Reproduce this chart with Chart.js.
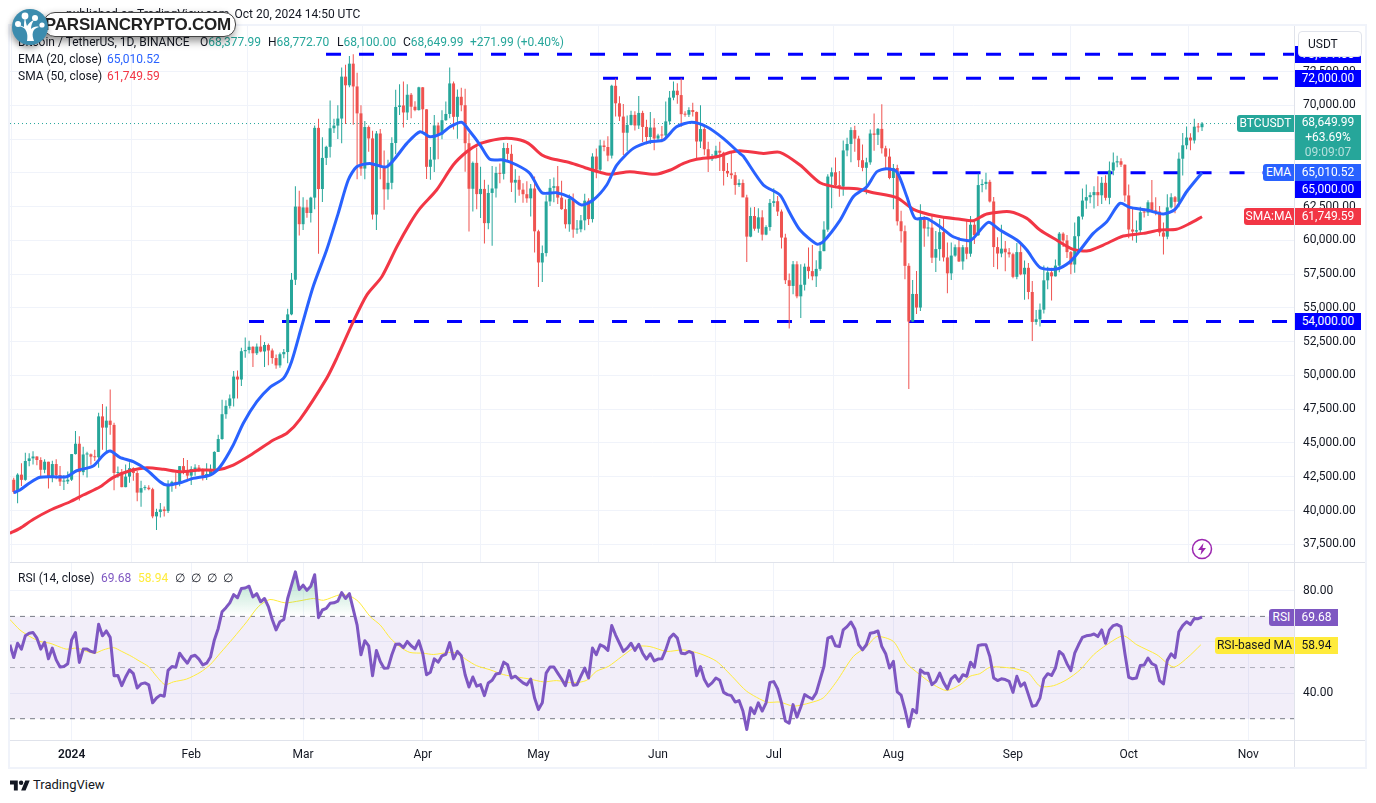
<!DOCTYPE html>
<html>
<head>
<meta charset="utf-8">
<script src="https://cdn.jsdelivr.net/npm/chart.js@4"></script>
<style>
  html, body { margin: 0; background: #fff; overflow: hidden; }
  body { width: 1376px; height: 803px; position: relative; font-family: Roboto, sans-serif; font-size: 12px; color: #131722; }
  canvas { position: absolute; left: 0; }
  .abs { position: absolute; white-space: nowrap; }
  .badge { position: absolute; height: 17px; line-height: 17px; text-align: center; white-space: nowrap; color: #fff; }
  .line { position: absolute; background: #E0E3EB; }
  #logoText { position: absolute; left: 43px; top: 12px; width: 193px; height: 25px; box-sizing: border-box; background: #fff; border: 1px solid #444; border-radius: 12px;
    box-shadow: -2px 4px 8px rgba(0,0,0,.45); font: 700 17px/24px "Liberation Sans", sans-serif; letter-spacing: -0.2px; color: #222; text-align: right; padding-right: 4px; }
</style>
</head>
<body>
<canvas id="priceChart" width="1376" height="563" style="top:0"></canvas>
<canvas id="rsiChart" width="1376" height="205" style="top:563px"></canvas>
<div id="overlay"></div>
<script>
const firstCandleDay = -15; // Dec 17 2023, day 0 = Jan 1 2024

const monthDays = [0, 31, 60, 91, 121, 152, 182, 213, 244, 274, 305];
const monthLabels = ["2024", "Feb", "Mar", "Apr", "May", "Jun", "Jul", "Aug", "Sep", "Oct", "Nov"];
const priceTicks = [37500, 40000, 42500, 45000, 47500, 50000, 52500, 55000, 57500, 60000, 62500, 65000, 67500, 70000, 72500];
const rsiTicks = [40, 60, 80];
const rsiLabelled = [40, 80];

const opens = [
  42278,41374,42657,42271,43668,43861,44000,43739,43016,43613,42520,43442,42627,42142,42152,
  42283,44179,44946,42845,44151,44162,43989,43943,46970,46139,46654,46340,42782,42847,41732,42511,43137,42776,41327,41659,41696,41580,39568,39897,40084,39961,41823,42120,42035,43288,42952,
  42582,43075,43185,42990,42580,42708,43082,44339,45293,47132,47751,48299,49917,49699,51795,51880,52124,51642,52137,51775,52258,51849,51288,50745,51572,51733,54522,57085,62504,
  61198,62440,62029,63167,68330,63801,66106,66925,68300,68498,69019,72123,71481,73083,71396,69403,65315,68390,67548,61912,67913,65491,63778,64262,67210,69880,69988,69469,70780,69897,69645,
  71333,69702,65446,65980,68508,67837,68896,69360,71620,69146,70631,70007,67195,63821,65738,63426,63811,61276,63512,63843,64994,64927,66837,66408,64276,64481,63755,63419,63113,63842,
  60672,58364,59060,62882,63892,64012,63165,62312,61193,63074,60799,60825,61483,62940,61577,66206,65235,67024,66915,66274,71446,70148,69166,67969,68549,69290,68507,69436,68398,67652,68352,
  67540,67766,67765,68809,70567,71082,70757,69342,69305,69649,69508,67321,68243,66747,66007,66191,66639,66490,65140,64960,64828,64096,64252,63180,60277,61806,60864,61706,60427,60986,
  62772,62899,62135,60208,57050,56628,58230,55857,56714,58050,57725,57339,57889,59204,60797,64724,65043,64087,63987,66660,67139,68165,67532,65936,65372,65777,67912,67813,68255,66819,66201,
  64619,65357,61415,60680,58116,53991,56034,55027,61710,60880,60945,58719,59354,60609,58737,57560,58874,59493,58439,59493,59012,61159,60381,64094,64178,64333,62880,59504,59027,59388,59119,
  58974,57301,59132,57487,57970,56180,53962,54160,54869,57042,57635,57339,58132,60498,59993,59132,58213,60309,61759,62947,63201,63348,63578,63339,64262,63152,65173,65769,65858,65602,
  63327,60805,60649,60752,62086,62058,62819,62224,62131,60582,60274,62445,63193,62851,66046,67041,67612,67399,68418,68378
];
const highs = [
  42424,42757,43500,44283,44242,44398,44015,43950,43800,43613,43683,43804,43300,42612,42899,
  44184,45879,45500,44729,44357,44214,44495,47248,47893,47699,48969,46498,43257,43079,43400,43578,43198,42930,42196,41872,41881,41689,40129,40555,40300,42246,42200,42842,43305,43882,43745,
  43285,43422,43380,43119,43494,43399,44380,45614,48200,48170,48592,50334,50368,52043,52816,52572,52163,52364,52985,52473,52366,52000,51548,51700,51950,54938,57588,64000,63676,
  63200,63000,63230,68500,69000,67637,67000,70357,69000,70000,72800,73000,73650,73777,72419,70000,68845,68500,68124,68100,68240,66650,65975,67628,71150,71561,71769,71552,70916,70300,71377,
  71355,69708,66914,69291,68725,69629,70284,72797,71758,71172,71305,71227,67932,65840,66878,65450,64486,64125,65500,65442,65700,67233,67208,67075,65275,64792,64222,64370,64174,64734,
  60780,59625,63333,64540,64646,65500,64422,63021,63404,63469,61515,61888,63450,63118,66444,66800,67451,67400,67700,71515,71979,70666,70096,69250,69591,69562,70687,69591,68935,69500,69044,
  67900,68460,70288,71063,71758,71625,71997,69563,69860,70195,69550,70000,68449,67294,66402,66998,67298,66556,65727,66482,65066,64525,64515,63369,62435,62480,62370,62230,61128,63058,
  63861,63288,62285,60498,57546,58475,58449,58236,58296,59470,59650,58526,59850,61420,64900,65388,66128,65133,67386,67598,68366,68479,67750,67102,66112,68200,69399,68318,70079,66998,66800,
  65659,65596,62198,61100,58305,57059,57736,62673,61800,61488,61900,60700,61578,61800,59849,59850,59700,60236,59650,61432,61800,61400,64955,64521,65000,64481,63219,60236,61166,59950,59432,
  59076,59809,59809,58519,58327,57000,54850,55318,58133,58044,57981,58588,60625,60610,60395,59210,61320,61786,63850,64133,63559,64000,64745,64688,64817,65839,66498,66260,66076,65618,
  64130,62390,61477,62484,62370,62975,64478,63200,62543,61320,63417,63480,63285,66500,67950,68424,67938,69000,68693,68773
];
const lows = [
  41250,40542,41811,42206,43286,43412,43351,42500,42765,41637,42096,42318,41818,41520,41965,
  42180,44148,40750,42613,42450,43397,43662,43175,44500,44300,45606,41500,42436,41720,41718,42050,42200,40683,40280,41500,41500,39431,38555,39484,39550,39823,41394,41620,41804,42683,42276,
  41884,42584,42880,42222,42258,42574,42788,44330,45242,46800,47557,47710,48300,49225,51315,51625,50625,51518,51715,50625,50750,50875,50500,50575,51280,50901,54450,56690,60364,
  60777,61668,61321,62300,59005,62848,65577,66128,67944,67500,67194,68620,71333,68555,64533,64780,64527,66555,61555,60775,64529,62260,63000,63790,66385,69280,68359,68903,69043,69560,69624,
  68062,64550,64493,65064,66011,67491,68851,69043,68210,67518,69567,65086,60660,62134,62302,61650,59768,60833,59600,63172,64227,64500,65864,63589,62783,63297,62793,62781,61765,59102,
  56552,56911,58811,62541,62822,62700,62261,60888,60648,60187,60487,60610,60749,61142,61319,64600,65106,66600,65857,66060,69162,68832,66312,66600,68500,68128,68250,67277,67124,67128,66670,
  67428,67257,67612,68567,70383,70119,68420,69160,69125,69172,66051,66838,66304,65056,65871,66060,65130,64066,64693,64559,63379,63943,63209,58402,60239,60712,60570,59985,60383,60712,
  62497,61806,59400,56771,53485,56018,55724,54260,56289,57157,57050,56542,57756,59194,60632,62373,63854,63238,63300,66222,65777,66559,65441,65111,63408,65600,66640,67066,66428,65301,64526,
  62302,61100,59850,57122,49000,53962,54558,54766,59535,60288,58325,57650,58500,58433,56078,57065,58785,58408,57833,58610,58783,59724,60345,63570,63773,62800,58034,57860,58755,57712,58735,
  57201,57120,57415,55606,55643,52550,53745,53629,54590,56386,55545,57324,57632,59510,58691,57493,57610,59174,61555,62350,62758,62357,62538,62700,62947,62670,64819,65422,65432,62856,
  60164,60000,59828,60459,61689,61798,62128,61860,60300,58946,60080,62365,62000,62457,64800,66750,66666,67178,68010,68100
];
const closes = [
  41374,42657,42271,43668,43861,44000,43739,43016,43613,42520,43442,42627,42142,42152,42283,
  44179,44946,42845,44151,44162,43989,43943,46970,46139,46654,46340,42782,42847,41732,42511,43137,42776,41327,41659,41696,41580,39568,39897,40084,39961,41823,42120,42035,43288,42952,42582,
  43075,43185,42990,42580,42708,43082,44339,45293,47132,47751,48299,49917,49699,51795,51880,52124,51642,52137,51775,52258,51849,51288,50745,51572,51733,54522,57085,62504,61198,
  62440,62029,63167,68330,63801,66106,66925,68300,68498,69019,72123,71481,73083,71396,69403,65315,68390,67548,61912,67913,65491,63778,64262,67210,69880,69988,69469,70780,69897,69645,71333,
  69702,65446,65980,68508,67837,68896,69360,71620,69146,70631,70007,67195,63821,65738,63426,63811,61276,63512,63843,64994,64927,66837,66408,64276,64481,63755,63419,63113,63842,60672,
  58364,59060,62882,63892,64012,63165,62312,61193,63074,60799,60825,61483,62940,61577,66206,65235,67024,66915,66274,71446,70148,69166,67969,68549,69290,68507,69436,68398,67652,68352,67540,
  67766,67765,68809,70567,71082,70757,69342,69305,69649,69508,67321,68243,66747,66007,66191,66639,66490,65140,64960,64828,64096,64252,63180,60277,61806,60864,61706,60427,60986,62772,
  62899,62135,60208,57050,56628,58230,55857,56714,58050,57725,57339,57889,59204,60797,64724,65043,64087,63987,66660,67139,68165,67532,65936,65372,65777,67912,67813,68255,66819,66201,64619,
  65357,61415,60680,58116,53991,56034,55027,61710,60880,60945,58719,59354,60609,58737,57560,58874,59493,58439,59493,59012,61159,60381,64094,64178,64333,62880,59504,59027,59388,59119,58974,
  57301,59132,57487,57970,56180,53962,54160,54869,57042,57635,57339,58132,60498,59993,59132,58213,60309,61759,62947,63201,63348,63578,63339,64262,63152,65173,65769,65858,65602,63327,
  60805,60649,60752,62086,62058,62819,62224,62131,60582,60274,62445,63193,62851,66046,67041,67612,67399,68418,68362,68650
];

const emaDays = [-15,-13.4,-10.8,-8.2,-4.8,-1.3,1.3,5.6,8.2,10,12.5,16,19.5,22.9,24.7,28.1,31.5,35.9,38.5,41.9,44.5,48,51.4,54.9,57,59.6,62.6,66.1,69.1,71.7,73.9,77.3,81.7,86.9,90.3,92.9,95.9,98.1,101.1,103.3,105.9,108.4,111.9,115.4,118.8,121.9,125.7,129.2,132.2,135.2,138.7,141.3,145.6,149.9,153.4,156.8,160.7,164.6,168.9,173.2,174.1,179.3,183.6,186.2,188.8,193.1,194.8,199.2,202.6,206.1,208.7,211.3,213.9,216.5,218.6,221.6,225.1,228.5,232.4,233.7,237.6,240.6,245,247.6,251,255.3,258.8,261.4,264.8,268.3,271.7,274.3,278.7,283,286,289,293];
const emaValues = [41317,41520,42060,42460,42500,42500,42945,43295,44110,44405,43940,43615,43000,42130,41885,42060,42380,42630,43240,44850,46460,48055,49120,49785,51020,53605,56570,59285,62000,64465,65450,65700,65450,67180,68040,67670,67920,68410,68740,68040,67060,66000,65950,65580,64960,63530,63530,63185,62620,62990,64100,65580,66810,67305,67430,68410,68740,68410,67550,66440,66230,64100,63360,62000,60765,59730,59900,61505,63230,63970,65080,65310,65080,63230,61630,61630,61010,60270,59970,60150,61335,60765,60025,59285,58000,57880,58420,59285,60520,61380,62740,62445,62245,61950,62300,63600,65010.52];

const smaDays = [-16,-13.4,-9.9,-5.6,-0.4,3,7.4,10.8,15.1,19.5,23.8,28.1,33.3,37.6,41.9,47.1,52.3,55.8,59.2,66.1,68.7,73,76.5,80.4,84.3,87.7,90.3,94.6,98.9,102.4,105.4,108.4,111.9,115.4,118.4,121.9,124,129.2,133.1,137,139.6,144.7,151.2,155.2,158.6,162,167.2,170.7,173.2,179.3,183.6,188.8,194,199.2,203.5,207.8,213.9,218.2,224.2,230.3,233.7,237.2,243.2,247.6,251,255.3,259.6,263.5,267.4,272.6,277.8,282.1,286.4,289.9,293];
const smaValues = [38312,38680,39350,40020,40650,41150,41760,42460,42945,43170,43050,42870,43000,43000,43370,44235,45220,45720,46750,49785,51270,53980,55950,57310,59530,61260,62370,63730,65580,66560,67110,67380,67550,67480,67180,66320,66075,65750,65380,65035,64890,65080,64890,65210,65700,66000,66190,66520,66640,66440,66520,65580,64270,63900,63820,63530,63160,62300,61800,61560,61455,61950,62120,61630,60765,60025,59335,59230,59655,60320,60520,60765,60820,61260,61749.59];

// level lines: price and the day each one starts at
const levelPrices = [73777, 72000, 65000, 54000];
const levelStarts = [65.94, 137.74, 214.6, 45.98];
const lastPrice = 68649.99;

const rsiFirstDay = -16;
const rsiValues = [
  58.9,53.9,59.5,57.2,62.4,63.4,63.7,61.5,57.2,59.9,53.4,57.6,53.0,50.2,50.4,51.5,
  60.8,63.7,52.0,57.2,57.2,56.3,55.9,66.9,62.4,64.3,61.8,46.8,46.9,42.9,46.3,49.1,47.6,42.0,43.6,44.0,43.2,36.2,38.1,39.2,38.8,48.9,50.4,50.1,55.6,53.5,51.7,
  54.3,54.8,53.3,51.0,51.7,54.1,60.8,65.3,71.8,73.4,75.3,78.5,77.3,80.9,81.1,81.8,77.6,78.9,75.7,77.0,73.8,68.8,64.7,67.9,68.8,77.0,82.2,87.4,80.5,
  82.2,80.2,81.8,86.3,69.5,72.5,73.1,75.1,75.3,76.0,79.3,77.0,78.9,72.7,66.6,55.0,60.5,58.5,46.8,56.7,52.4,49.7,49.8,55.0,59.1,59.2,57.8,60.2,58.5,57.3,60.4,
  55.6,47.2,48.2,53.4,52.1,54.6,55.2,59.8,53.4,56.3,54.6,47.2,42.4,46.3,42.7,43.3,39.0,44.0,45.0,47.5,47.8,52.1,51.1,45.9,46.6,45.3,44.0,43.2,45.5,38.1,
  33.6,36.2,47.8,50.2,50.2,47.8,45.5,42.9,48.8,43.1,43.3,46.6,49.8,45.9,57.6,55.0,58.9,58.2,56.7,66.4,62.7,59.5,56.3,57.6,59.5,56.7,59.1,55.6,53.3,55.4,52.6,
  53.3,53.4,56.9,61.5,63.1,61.5,55.6,55.4,56.3,55.6,46.8,50.4,45.3,42.7,44.0,45.9,45.0,40.3,39.4,39.0,36.5,37.1,33.0,25.8,34.3,32.0,36.2,33.0,36.2,44.2,
  44.5,41.6,36.2,29.1,28.2,35.5,30.6,34.6,39.4,38.5,37.7,40.1,45.3,50.4,61.5,62.1,58.5,58.2,64.7,66.0,67.8,65.1,58.9,56.9,58.9,63.4,63.7,64.3,58.2,55.4,49.8,
  52.4,40.5,39.2,33.6,26.9,33.6,32.3,49.1,47.8,47.8,43.3,44.6,47.8,44.2,41.6,45.6,46.9,44.6,47.2,46.6,52.1,50.1,58.6,58.9,58.9,54.3,45.9,44.9,45.6,45.3,44.6,
  40.3,46.6,42.7,44.0,39.4,34.9,35.2,38.1,45.6,47.6,46.9,49.8,56.3,55.0,51.5,48.8,55.6,58.9,61.8,62.4,62.6,63.1,62.1,64.7,59.5,64.7,66.4,66.8,66.0,55.6,
  46.2,45.6,45.9,50.8,51.0,53.7,51.5,50.8,44.9,43.6,52.8,55.4,53.9,64.0,66.4,67.9,66.8,69.2,69.1,69.68
];
const rsiMaDays = [-16,-13.4,-10.8,-8.2,-5.6,-3,-1.3,1.3,3.9,6,8.2,10.8,13,15.6,17.7,19.9,22,24.2,26.4,29.8,33.3,35.9,38.5,41.9,45.4,48.4,51.4,55.3,59.2,62.7,65.3,69.6,72.2,74.4,77.4,80,82.6,85.2,87.7,91.2,93.8,97.7,99.8,102.4,105,108.5,112,115.4,118.8,122.3,125.7,130,133.5,136,139.1,142.6,146.4,149.9,154.2,158.6,162.9,167.2,171.6,175,180.2,183.6,187.1,191.4,194.8,198.3,202.6,206.1,208.7,213,216.4,219.9,223.4,226.8,230.3,232.9,235.4,238,241.5,245,248,251,254.5,258,261.4,264.9,268.3,272.6,276.1,281.3,285.6,289.1,292.7];
const rsiMaValues = [68.8,64.7,62.1,60.2,59.5,58,57.2,57.6,56.3,55.6,56.9,57.8,56.3,54.3,52.4,50.4,46.6,43.3,44.4,45.5,48.1,51.1,55.6,61.5,67.9,73.8,76.6,75.3,76.1,77,76.3,78.5,77.9,75.7,69.9,66.6,61.5,58,55.9,55.6,55.1,55.9,55.6,53,50.7,49.1,47.2,46.3,45.5,44.4,44.9,44,45,48.5,50.4,54.3,58.2,58.2,56.3,56.9,55.4,52.4,45.9,40.7,36.5,36.5,34.9,36.2,38.1,44.6,54.3,58.2,62.1,60.2,51.7,47.2,43.3,41,43.3,46.6,47.6,50.1,50.1,49.4,47.9,42.7,42.9,45.3,49.1,55,58.9,62.4,58.9,55,50.2,53.7,58.9];
const rsiLevels = [70, 50, 30];

const xMin = -15.97, xMax = 317.1;
const upColor = "#26A69A", downColor = "#EF5350";
const gridColor = "#F0F3FA";
const axisFont = { family: "Roboto, sans-serif", size: 12 };

const candleDays = closes.map((_, i) => firstCandleDay + i);
const candleColors = closes.map((c, i) => c >= opens[i] ? upColor : downColor);

function monthTicks(axis) { axis.ticks = monthDays.map(v => ({ value: v })); }
// scales must not push the plot area in for their label overhang
function noPadding(s) { s.paddingTop = s.paddingBottom = s.paddingLeft = s.paddingRight = 0; }

const priceChart = new Chart(document.getElementById("priceChart").getContext("2d"), {
  type: "bar",
  data: {
    datasets: [
      ...levelPrices.map((p, n) => ({
        type: "line", order: 6,
        data: [{ x: levelStarts[n], y: p }, { x: xMax, y: p }],
        borderColor: "#0000FF", borderWidth: 3, borderDash: [15, 18], pointRadius: 0
      })),
      {
        type: "line", order: 5,
        data: [{ x: xMin, y: lastPrice }, { x: 302, y: lastPrice }],
        borderColor: upColor, borderWidth: 1, borderDash: [1, 3], pointRadius: 0
      },
      {
        order: 4, grouped: false, barThickness: 1, inflateAmount: 0,
        data: candleDays.map((d, i) => ({ x: d, y: [lows[i], highs[i]] })),
        backgroundColor: candleColors
      },
      {
        order: 3, grouped: false, barThickness: 3, inflateAmount: 0, minBarLength: 1,
        data: candleDays.map((d, i) => ({ x: d, y: [opens[i], closes[i]] })),
        backgroundColor: candleColors
      },
      {
        type: "line", order: 2,
        data: smaDays.map((d, i) => ({ x: d, y: smaValues[i] })),
        borderColor: "#F23645", borderWidth: 3, pointRadius: 0, tension: 0.25
      },
      {
        type: "line", order: 1,
        data: emaDays.map((d, i) => ({ x: d, y: emaValues[i] })),
        borderColor: "#2962FF", borderWidth: 3, pointRadius: 0, tension: 0.25
      }
    ]
  },
  options: {
    responsive: false,
    animation: false,
    layout: { padding: { left: 10, top: 24, right: 0, bottom: 1 } },
    plugins: { legend: { display: false }, tooltip: { enabled: false } },
    scales: {
      x: {
        type: "linear", min: xMin, max: xMax, offset: false,
        afterBuildTicks: monthTicks,
        afterFit: s => { s.height = 0; noPadding(s); },
        grid: { color: gridColor, drawTicks: false },
        border: { display: false },
        ticks: { display: false }
      },
      y: {
        position: "right",
        min: 36190, max: 76019,
        afterBuildTicks: axis => { axis.ticks = priceTicks.map(v => ({ value: v })); },
        afterFit: s => { s.width = 81; noPadding(s); },
        grid: { color: gridColor, drawTicks: false },
        border: { display: false },
        ticks: {
          autoSkip: false, padding: 8, color: "#131722", font: axisFont,
          callback: v => v.toLocaleString("en-US", { minimumFractionDigits: 2 })
        }
      }
    }
  }
});

const rsiCtx = document.getElementById("rsiChart").getContext("2d");
const overbought = rsiCtx.createLinearGradient(0, 5, 0, 53);
overbought.addColorStop(0, "rgba(56,176,120,0.45)");
overbought.addColorStop(1, "rgba(56,176,120,0)");

const rsiChart = new Chart(rsiCtx, {
  type: "line",
  data: {
    datasets: [
      {
        order: 5,
        data: [{ x: xMin, y: rsiLevels[0] }, { x: xMax, y: rsiLevels[0] }],
        borderColor: "#787B86", borderWidth: 1, borderDash: [5, 5], pointRadius: 0,
        backgroundColor: "rgba(126,87,194,0.1)",
        fill: { target: { value: rsiLevels[2] } }
      },
      {
        order: 4,
        data: [{ x: xMin, y: rsiLevels[1] }, { x: xMax, y: rsiLevels[1] }],
        borderColor: "rgba(120,123,134,0.55)", borderWidth: 1, borderDash: [5, 5], pointRadius: 0
      },
      {
        order: 3,
        data: [{ x: xMin, y: rsiLevels[2] }, { x: xMax, y: rsiLevels[2] }],
        borderColor: "#787B86", borderWidth: 1, borderDash: [5, 5], pointRadius: 0
      },
      {
        order: 2,
        data: rsiMaDays.map((d, i) => ({ x: d, y: rsiMaValues[i] })),
        borderColor: "#FFEB3B", borderWidth: 1, pointRadius: 0, tension: 0.25
      },
      {
        order: 1,
        data: rsiValues.map((v, i) => ({ x: rsiFirstDay + i, y: v })),
        borderColor: "#7E57C2", borderWidth: 3, pointRadius: 0, borderJoinStyle: "round",
        fill: { target: { value: 70 }, above: overbought, below: "rgba(0,0,0,0)" }
      }
    ]
  },
  options: {
    responsive: false,
    animation: false,
    layout: { padding: { left: 10, top: 0, right: 0, bottom: 0 } },
    plugins: { legend: { display: false }, tooltip: { enabled: false } },
    scales: {
      x: {
        type: "linear", min: xMin, max: xMax, offset: false,
        afterBuildTicks: monthTicks,
        afterFit: s => { s.height = 28; noPadding(s); },
        grid: { color: gridColor, drawTicks: false },
        border: { display: false },
        ticks: {
          autoSkip: false, maxRotation: 0, padding: 8, color: "#131722",
          font: ctx => ctx.tick && ctx.tick.value === 0 ? { ...axisFont, weight: "600" } : axisFont,
          callback: v => monthLabels[monthDays.indexOf(v)]
        }
      },
      y: {
        position: "right",
        min: 21.67, max: 90.87,
        afterBuildTicks: axis => { axis.ticks = rsiTicks.map(v => ({ value: v })); },
        afterFit: s => { s.width = 81; noPadding(s); },
        grid: { color: gridColor, drawTicks: false },
        border: { display: false },
        ticks: {
          autoSkip: false, padding: 8, color: "#131722", font: axisFont,
          callback: v => rsiLabelled.includes(v) ? v.toFixed(2) : ""
        }
      }
    }
  }
});

// everything around the two panes: legends, value badges, frame
const overlay = document.getElementById("overlay");
function add(html) { overlay.insertAdjacentHTML("beforeend", html); }
function text(x, y, str, color, extra) {
  add(`<div class="abs" style="left:${x}px;top:${y - 9}px;line-height:18px;color:${color || "#131722"};${extra || ""}">${str}</div>`);
}
function badge(x, y, w, str, bg, color, radius, h) {
  add(`<div class="badge" style="left:${x}px;top:${y}px;width:${w}px;height:${h || 17}px;background:${bg};color:${color || "#fff"};border-radius:${radius || "0"}">${str}</div>`);
}
function rule(x, y, w, h, color) {
  add(`<div class="line" style="left:${x}px;top:${y}px;width:${w}px;height:${h}px;${color ? "background:" + color : ""}"></div>`);
}

// frame and pane separators
rule(8, 24, 1359, 2, gridColor);
rule(8, 767, 1359, 2, gridColor);
rule(8, 24, 2, 745, gridColor);
rule(1365, 24, 2, 745, gridColor);
rule(10, 562, 1355, 1);
rule(10, 740, 1355, 1);
rule(1294, 26, 1, 741);

// header and legends
text(66, 14, "published on TradingView.com, Oct 20, 2024 14:50 UTC");
text(18, 42, "Bitcoin / TetherUS, 1D, BINANCE");
const ohlc = "#26A69A";
const dark = s => `<span style="color:#131722">${s}</span>`;
text(200, 42, dark("O") + "68,377.99", ohlc);
text(268, 42, dark("H") + "68,772.70", ohlc);
text(337, 42, dark("L") + "68,100.00", ohlc);
text(403, 42, dark("C") + "68,649.99", ohlc);
text(470, 42, "+271.99 (+0.40%)", ohlc);
text(18, 59, "EMA (20, close)");
text(107, 59, "65,010.52", "#2962FF");
text(18, 76, "SMA (50, close)");
text(107, 76, "61,749.59", "#F23645");
text(18, 578, "RSI (14, close)");
text(101, 578, "69.68", "#7E57C2");
text(138, 578, "58.94", "#FFEB3B");
text(175, 578, "∅ &nbsp;∅ &nbsp;∅ &nbsp;∅");

// price axis badges
badge(1295, 46, 66, "73,777.00", "#0000FF");
add(`<div class="abs" style="left:1298px;top:31px;width:64px;height:26px;box-sizing:border-box;background:#fff;border:1px solid #E0E3EB;border-radius:4px;line-height:24px;padding-left:9px">USDT</div>`);
badge(1295, 70, 66, "72,000.00", "#0000FF");
badge(1237, 115, 57, "BTCUSDT", upColor, "#fff", "3px 0 0 3px");
add(`<div class="abs" style="left:1295px;top:115px;width:66px;height:45px;background:${upColor};color:#fff;text-align:center;line-height:15px">68,649.99<br>+63.69%<br><span style="opacity:.65">09:09:07</span></div>`);
badge(1263, 164, 31, "EMA", "#2962FF", "#fff", "3px 0 0 3px");
badge(1295, 164, 66, "65,010.52", "#2962FF");
badge(1295, 181, 66, "65,000.00", "#0000FF");
badge(1244, 208, 50, "SMA:MA", "#F23645", "#fff", "3px 0 0 3px");
badge(1295, 208, 66, "61,749.59", "#F23645");
badge(1295, 313, 66, "54,000.00", "#0000FF");

// RSI axis badges
badge(1269, 609, 25, "RSI", "#7E57C2", "#fff", "3px 0 0 3px");
badge(1295, 609, 43, "69.68", "#7E57C2");
badge(1215, 637, 79, "RSI-based MA", "#FFEB3B", "#131722", "3px 0 0 3px");
badge(1295, 637, 43, "58.94", "#FFEB3B", "#131722");

// small lightning mark in the pane
add(`<svg class="abs" style="left:1191px;top:538px" width="22" height="22" viewBox="0 0 22 22"><circle cx="11" cy="11" r="9.5" fill="#fff" stroke="#9C27B0" stroke-width="1.5"/><path d="M12.5 5 7 12h3.5l-1 5L15 10h-3.5z" fill="#9C27B0"/></svg>`);

// TradingView mark
add(`<svg class="abs" style="left:10px;top:779px" width="20" height="13" viewBox="0 4 36 18"><path d="M14 22H7V11H0V4h14v18zM28 22h-8l7.5-18h8L28 22z" fill="#131722"/><circle cx="20" cy="8" r="4" fill="#131722"/></svg>`);
text(33, 785, "TradingView", "#131722", "font-size:13px");

// watermark
add(`<div id="logoText">PARSIANCRYPTO.COM</div>`);
add(`<svg class="abs" style="left:11px;top:8px;filter:drop-shadow(-1px 3px 3px rgba(0,0,0,.4))" width="38" height="38" viewBox="0 0 38 38"><circle cx="19" cy="19" r="18" fill="#3C8CAE"/><path d="M16 33c1-6 0-9-2-12-2-2-5-3-8-3 3-1 5 0 7 1 0-3 0-6 1-9 1 3 1 6 2 8 2-3 4-5 7-6-2 3-3 6-3 9 2-2 5-3 8-2-3 1-5 2-6 5-1 3 0 6 1 9z" fill="#fff"/><circle cx="7" cy="16" r="3" fill="#fff"/><circle cx="14" cy="8" r="3.4" fill="#fff"/><circle cx="24" cy="10" r="3" fill="#fff"/><circle cx="31" cy="17" r="2.6" fill="#fff"/></svg>`);
</script>
</body>
</html>
